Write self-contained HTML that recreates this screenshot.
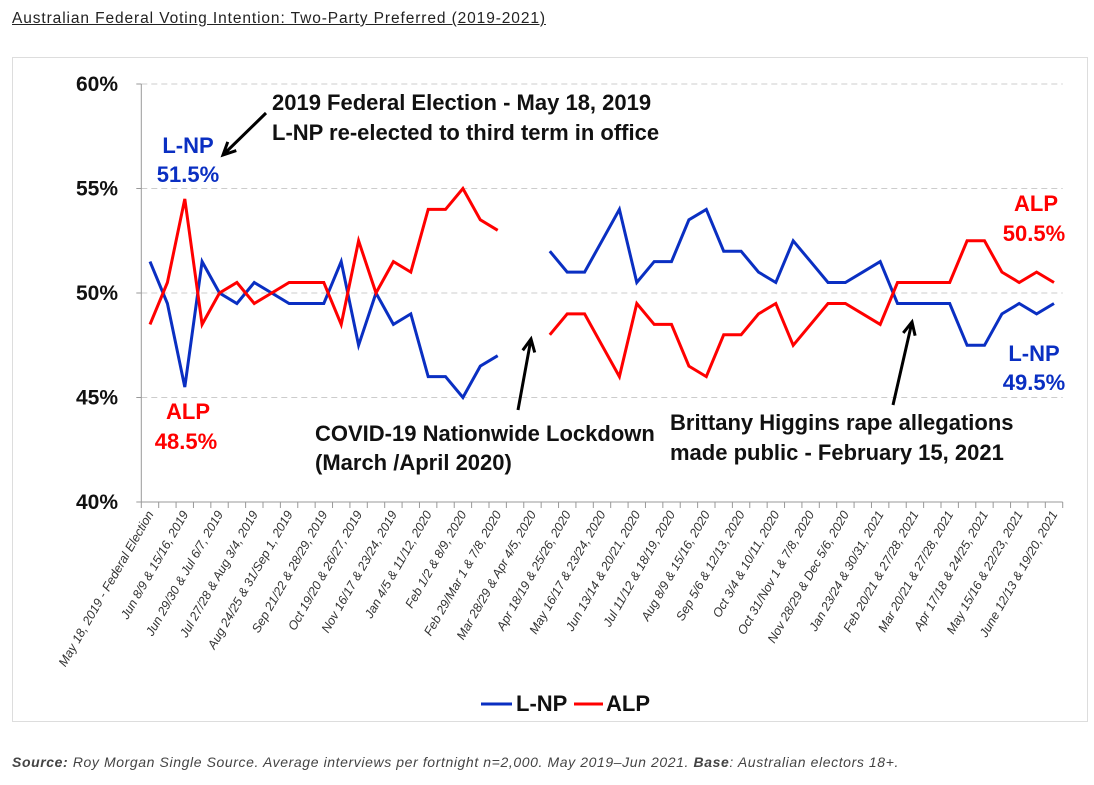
<!DOCTYPE html>
<html><head><meta charset="utf-8">
<style>
body{margin:0;width:1094px;height:785px;background:#fff;font-family:"Liberation Sans",sans-serif;overflow:hidden;position:relative}
#title{position:absolute;left:12px;top:10px;font-size:15.5px;color:#222;text-decoration:underline;letter-spacing:0.9px}
#box{position:absolute;left:12px;top:57px;width:1076px;height:665px;border:1px solid #ddd;box-sizing:border-box}
#source{position:absolute;left:12px;top:754px;font-size:14px;font-style:italic;color:#444;letter-spacing:0.6px}
svg{position:absolute;left:0;top:0}
.ann{font-weight:bold;font-size:22px;fill:#111}
</style></head><body>
<div id="title">Australian Federal Voting Intention: Two-Party Preferred (2019-2021)</div>
<div id="box"></div>
<svg id="chart" width="1094" height="785"></svg>
<div id="source"><b>Source:</b> Roy Morgan Single Source. Average interviews per fortnight n=2,000. May 2019–Jun 2021. <b>Base</b>: Australian electors 18+.</div>
<script>
const categories=["May 18, 2019 - Federal Election","","Jun 8/9 & 15/16, 2019","","Jun 29/30 & Jul 6/7, 2019","","Jul 27/28 & Aug 3/4, 2019","","Aug 24/25 & 31/Sep 1, 2019","","Sep 21/22 & 28/29, 2019","","Oct 19/20 & 26/27, 2019","","Nov 16/17 & 23/24, 2019","","Jan 4/5 & 11/12, 2020","","Feb 1/2 & 8/9, 2020","","Feb 29/Mar 1 & 7/8, 2020","","Mar 28/29 & Apr 4/5, 2020","","Apr 18/19 & 25/26, 2020","","May 16/17 & 23/24, 2020","","Jun 13/14 & 20/21, 2020","","Jul 11/12 & 18/19, 2020","","Aug 8/9 & 15/16, 2020","","Sep 5/6 & 12/13, 2020","","Oct 3/4 & 10/11, 2020","","Oct 31/Nov 1 & 7/8, 2020","","Nov 28/29 & Dec 5/6, 2020","","Jan 23/24 & 30/31, 2021","","Feb 20/21 & 27/28, 2021","","Mar 20/21 & 27/28, 2021","","Apr 17/18 & 24/25, 2021","","May 15/16 & 22/23, 2021","","June 12/13 & 19/20, 2021"];
const lnp=[51.5,49.5,45.5,51.5,50,49.5,50.5,50,49.5,49.5,49.5,51.5,47.5,50,48.5,49,46,46,45,46.5,47,null,null,52,51,51,52.5,54,50.5,51.5,51.5,53.5,54,52,52,51,50.5,52.5,51.5,50.5,50.5,51,51.5,49.5,49.5,49.5,49.5,47.5,47.5,49,49.5,49,49.5];
const alp=[48.5,50.5,54.5,48.5,50,50.5,49.5,50,50.5,50.5,50.5,48.5,52.5,50,51.5,51,54,54,55,53.5,53,null,null,48,49,49,47.5,46,49.5,48.5,48.5,46.5,46,48,48,49,49.5,47.5,48.5,49.5,49.5,49,48.5,50.5,50.5,50.5,50.5,52.5,52.5,51,50.5,51,50.5];
const yTicks=[40,45,50,55,60];
const NS="http://www.w3.org/2000/svg";
const svg=document.getElementById('chart');
const X0=141.3,X1=1062.7,Y0=502,Y1=84;
const n=categories.length,bw=(X1-X0)/n;
const x=i=>X0+bw*(i+0.5);
const y=v=>Y0-(v-40)/20*(Y0-Y1);
function mk(t,a){const e=document.createElementNS(NS,t);for(const k in a)e.setAttribute(k,a[k]);svg.appendChild(e);return e;}
yTicks.forEach(t=>{
  if(t>40){const g=mk('line',{x1:X0,x2:X1,y1:y(t),y2:y(t),stroke:'#ccc','stroke-dasharray':'6,4','stroke-width':1});
  
  }
  mk('line',{x1:X0-5,x2:X0,y1:y(t),y2:y(t),stroke:'#999'});
  const l=mk('text',{x:118,y:y(t)+7,'text-anchor':'end','font-weight':'bold','font-size':21,fill:'#111'});
  l.textContent=t+'%';
  
  
});
const ya=mk('line',{x1:X0,x2:X0,y1:Y1,y2:Y0,stroke:'#999'});


const xa=mk('line',{x1:X0,x2:X1,y1:Y0,y2:Y0,stroke:'#999'});


for(let i=0;i<=n;i++)mk('line',{x1:X0+bw*i,x2:X0+bw*i,y1:Y0,y2:Y0+6,stroke:'#999'});
categories.forEach((c,i)=>{
  if(!c)return;
  const t=mk('text',{x:x(i)+4,y:Y0+12,'text-anchor':'end','font-size':12.5,'font-style':'italic',fill:'#333',transform:`rotate(-60 ${x(i)+4} ${Y0+12})`});
  t.textContent=c;
  
  
});
function series(vals,color,name){
  let d='',pen=false;
  vals.forEach((v,i)=>{if(v==null){pen=false;return;}d+=(pen?'L':'M')+x(i).toFixed(1)+' '+y(v).toFixed(1)+' ';pen=true;});
  const p=mk('path',{d:d,fill:'none',stroke:color,'stroke-width':3,'stroke-linejoin':'miter'});
  
  
}
series(lnp,'#0a2fc2','lnp-line');
series(alp,'#ff0000','alp-line');
function txt(s,xx,yy,fill,anchor,name){const t=mk('text',{x:xx,y:yy,class:'ann',fill:fill,'text-anchor':anchor||'start'});t.style.fill=fill;t.textContent=s;return t;}
txt('2019 Federal Election - May 18, 2019',272,110,'#111','start','annotation-election');
txt('L-NP re-elected to third term in office',272,140,'#111','start','annotation-election-sub');
txt('L-NP',188,153,'#0a2fc2','middle','label-lnp-start');
txt('51.5%',188,182,'#0a2fc2','middle','label-lnp-start-value');
txt('ALP',188,419,'#ff0000','middle','label-alp-start');
txt('48.5%',186,449,'#ff0000','middle','label-alp-start-value');
txt('COVID-19 Nationwide Lockdown',315,441,'#111','start','annotation-covid');
txt('(March /April 2020)',315,470,'#111','start','annotation-covid-sub');
txt('Brittany Higgins rape allegations',670,430,'#111','start','annotation-higgins');
txt('made public - February 15, 2021',670,460,'#111','start','annotation-higgins-sub');
txt('ALP',1036,211,'#ff0000','middle','label-alp-end');
txt('50.5%',1034,241,'#ff0000','middle','label-alp-end-value');
txt('L-NP',1034,361,'#0a2fc2','middle','label-lnp-end');
txt('49.5%',1034,390,'#0a2fc2','middle','label-lnp-end-value');
function arrow(x1,y1,x2,y2,name){
  const a=Math.atan2(y2-y1,x2-x1),L=14,w=0.45;
  const g=mk('path',{d:`M${x1} ${y1}L${x2} ${y2}M${x2-L*Math.cos(a-w)} ${y2-L*Math.sin(a-w)}L${x2} ${y2}L${x2-L*Math.cos(a+w)} ${y2-L*Math.sin(a+w)}`,stroke:'#000','stroke-width':3,fill:'none'});
  
  
}
arrow(266,113,223,155,'arrow-election');
arrow(518,410,531,339,'arrow-covid');
arrow(893,405,912,322,'arrow-higgins');
const l1=mk('line',{x1:481,x2:512,y1:704,y2:704,stroke:'#0a2fc2','stroke-width':3});


txt('L-NP',516,711,'#111','start','legend-lnp');
const l2=mk('line',{x1:574,x2:603,y1:704,y2:704,stroke:'#ff0000','stroke-width':3});


txt('ALP',606,711,'#111','start','legend-alp');
</script>
</body></html>
